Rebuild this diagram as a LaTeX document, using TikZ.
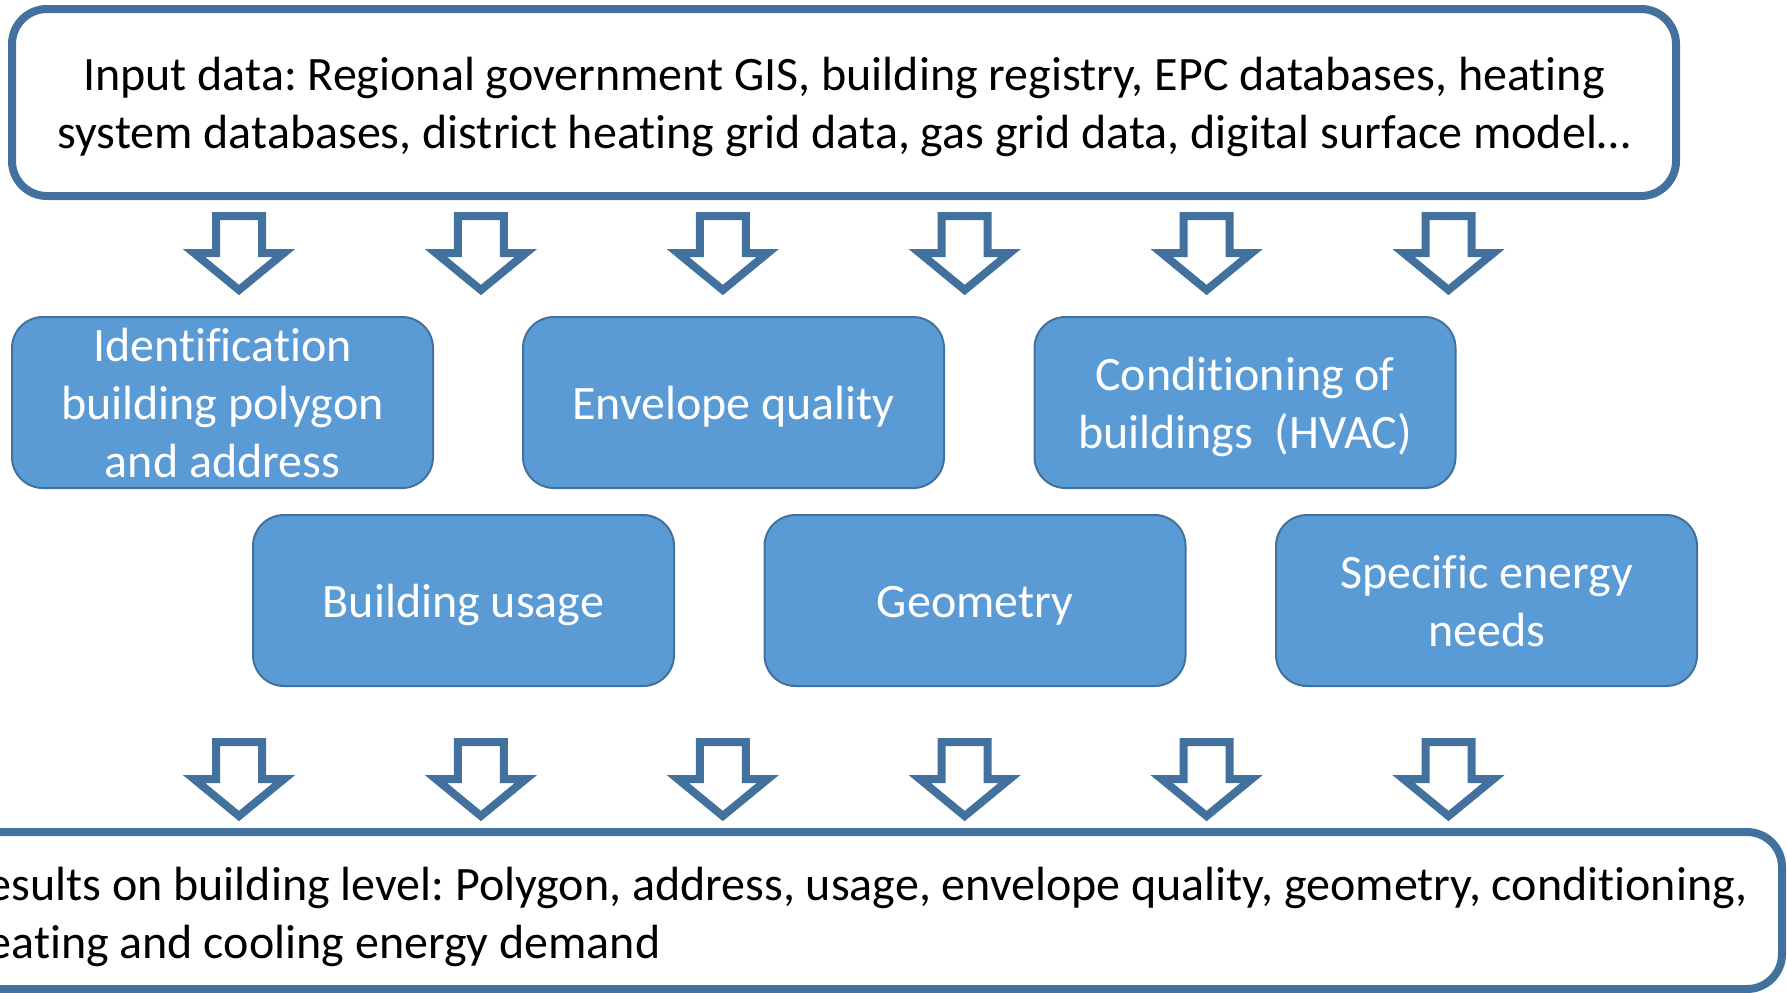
\documentclass[tikz,border=0pt]{standalone}
\usepackage{fontspec}
\setmainfont{Carlito}[Ligatures=NoCommon]
\frenchspacing
\definecolor{edgeblue}{HTML}{41719C}
\definecolor{fillblue}{HTML}{5B9BD5}
\newcommand{\boxfont}{\fontsize{24}{29}\selectfont}
% struts that fix the height of the first line and the depth of the last one
\newcommand{\firststrut}{\rule{0pt}{24.2pt}}
\newcommand{\laststrut}{\rule[-7pt]{0pt}{0pt}}
\begin{document}
\begin{tikzpicture}[x=0.5pt,y=-0.5pt,
  frame/.style={draw=edgeblue, line width=4pt, rounded corners=17.5pt, fill=white},
  bigbox/.style={frame, inner xsep=0pt, inner ysep=-6pt, align=center, font=\boxfont},
  stagebox/.style={draw=edgeblue, line width=1pt, fill=fillblue, rounded corners=15.5pt,
    minimum width=210.5pt, minimum height=85.5pt, inner xsep=0pt, inner ysep=-6pt,
    align=center, text=white, font=\boxfont},
  flowarrow/.style={draw=edgeblue, line width=4pt, fill=white, miter limit=10},
  downarrow/.pic={\path[flowarrow] (-23,0) -- (23,0) -- (23,37) -- (45,37) -- (0,74)
      -- (-45,37) -- (-23,37) -- cycle;}
]
\useasboundingbox (0,0) rectangle (1787,992);
\clip (0,0) rectangle (1787,992);

% input data
\node[bigbox, minimum width=832pt, minimum height=93.5pt] (input) at (844,102.5)
  {\firststrut Input data: Regional government GIS, building registry, EPC databases, heating\\
   system databases, district heating grid data, gas grid data, digital surface model…\laststrut};

% arrows from the inputs
\foreach \i in {0,...,5} {
  \pic at ({239+241.9*\i},216) {downarrow};
}

% processing steps, first row
\node[stagebox] (ident) at (222.5,402.5) {\firststrut Identification\\building polygon\\and address\laststrut};
\node[stagebox] (envelope) at (733.5,402.5) {\firststrut Envelope quality\laststrut};
\node[stagebox] (hvac) at (1245,402.5) {\firststrut Conditioning of\\buildings~~(HVAC)\laststrut};

% processing steps, second row
\node[stagebox] (usage) at (463.5,600.5) {\firststrut Building usage\laststrut};
\node[stagebox] (geometry) at (975,600.5) {\firststrut Geometry\laststrut};
\node[stagebox] (needs) at (1486.5,600.5) {\firststrut Specific energy\\needs\laststrut};

% arrows to the results
\foreach \i in {0,...,5} {
  \pic at ({239+241.9*\i},742) {downarrow};
}

% results
\draw[frame] (-80,832) rectangle (1782,989);
\node[anchor=west, align=left, inner sep=0pt, font=\boxfont] (results) at (-38,911.8)
  {\firststrut Results on building level: Polygon, address, usage, envelope quality, geometry, conditioning,\\
   heating and cooling energy demand\laststrut};
\end{tikzpicture}
\end{document}
